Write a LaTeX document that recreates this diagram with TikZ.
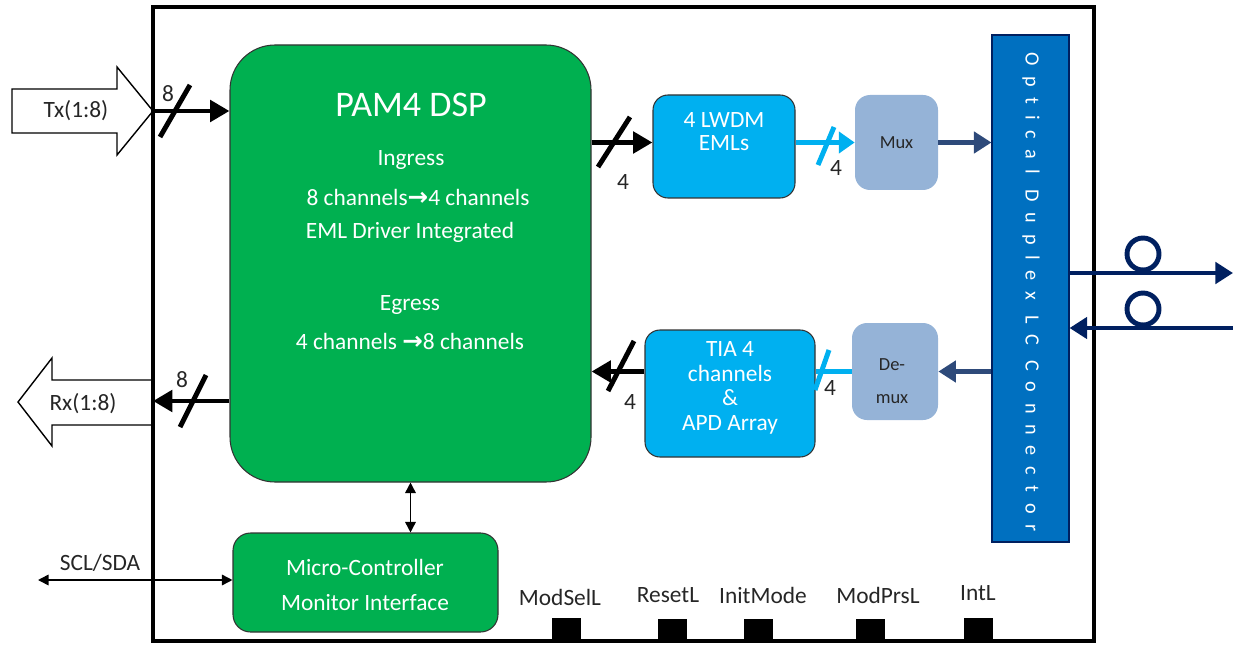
\documentclass[tikz,border=0pt]{standalone}
\usepackage{fontspec}
\setmainfont{Carlito}
\newfontfamily\arrowfont{DejaVu Sans}
\usetikzlibrary{arrows.meta}
\definecolor{dspgreen}{HTML}{00B050}
\definecolor{optblue}{HTML}{00B0F0}
\definecolor{muxblue}{HTML}{95B3D7}
\definecolor{connblue}{HTML}{0070C0}
\definecolor{linknavy}{HTML}{2E4A7A}
\definecolor{fibernavy}{HTML}{002060}
\definecolor{textdark}{HTML}{262626}
\begin{document}
\begin{tikzpicture}[x=0.02cm,y=-0.02cm,
  every node/.style={font=\fontsize{13.3}{16}\selectfont,text=textdark},
  blockbox/.style={draw=black!80,line width=0.6pt,inner sep=0pt},
  bus/.style={line width=2.8pt,-{Triangle[length=11pt,width=12pt]}},
  cyanbus/.style={color=optblue,line width=2.8pt},
  link/.style={color=linknavy,line width=2.8pt,-{Triangle[length=10pt,width=12pt]}},
  fiber/.style={color=fibernavy,line width=2.8pt},
  slashline/.style={line width=2.8pt},
  ctl/.style={line width=0.9pt,{Triangle[length=6pt,width=6pt]}-{Triangle[length=6pt,width=6pt]}},
  pinpad/.style={fill=black,inner sep=0pt,minimum width=29*0.02cm,minimum height=24*0.02cm}]
\useasboundingbox (0,0) rectangle (1233,645);

% host side block arrows
\draw[line width=0.8pt,fill=white] (12,89) -- (117,89) -- (117,67) -- (153,111) -- (117,155) -- (117,133) -- (12,133) -- cycle;
\node (txlabel) at (76,111) {Tx(1:8)};
\coordinate (txtip) at (153,111);
\draw[line width=0.8pt,fill=white] (153,380) -- (52,380) -- (52,358) -- (18,402) -- (52,446) -- (52,425) -- (153,425) -- cycle;
\node (rxlabel) at (83,404) {Rx(1:8)};
\coordinate (rxtip) at (153,401);

% module outline
\draw[line width=2.2pt] (153,7) rectangle (1094,641);

% DSP
\node[blockbox,fill=dspgreen,rounded corners=0.9cm,minimum width=361*0.02cm,minimum height=437*0.02cm] (dsp) at (410.5,263.5) {};
\node[text=white,font=\fontsize{20.5}{24}\selectfont] (dsptitle) at (411,105) {PAM4 DSP};
\node[text=white] (ingress) at (411,160) {Ingress};
\node[text=white] (ingressmap) at (418,197) {8 channels{\arrowfont\bfseries\fontsize{14}{16}\selectfont →}4 channels};
\node[text=white] (emldriver) at (410,232) {EML Driver Integrated};
\node[text=white] (egress) at (410,305) {Egress};
\node[text=white] (egressmap) at (410,341) {4 channels {\arrowfont\bfseries\fontsize{14}{16}\selectfont →}8 channels};

% optics
\node[blockbox,fill=optblue,rounded corners=0.3cm,minimum width=142*0.02cm,minimum height=103*0.02cm] (eml) at (724,146.5) {};
\node[text=white,align=center,font=\fontsize{13.3}{13}\selectfont] (emltext) at (724,132) {4 LWDM\\EMLs};
\node[fill=muxblue,rounded corners=0.3cm,inner sep=0pt,minimum width=83*0.02cm,minimum height=95*0.02cm,font=\fontsize{10.5}{12}\selectfont] (mux) at (896.5,142.5) {Mux};
\node[blockbox,fill=optblue,rounded corners=0.3cm,minimum width=170*0.02cm,minimum height=127*0.02cm] (tia) at (730,393.5) {};
\node[text=white,align=center,font=\fontsize{13.3}{14}\selectfont] (tiatext) at (730,388) {TIA 4\\channels\\\&\\APD Array};
\node[fill=muxblue,rounded corners=0.3cm,inner sep=0pt,minimum width=86*0.02cm,minimum height=97*0.02cm] (demux) at (895,371.5) {};
\node[align=center,font=\fontsize{10.5}{19}\selectfont] (demuxtext) at (892,381) {De-\\mux};
\node[draw=fibernavy,line width=0.6pt,fill=connblue,inner sep=0pt,minimum width=77*0.02cm,minimum height=507*0.02cm] (conn) at (1030.5,288.5) {};
\node[rotate=-90,text=white,font=\fontsize{11.5}{14}\selectfont\addfontfeature{LetterSpace=53,Ligatures=NoCommon}] (conntext) at (1031,292) {Optical Duplex LC Connector};

% micro-controller
\node[blockbox,fill=dspgreen,rounded corners=0.35cm,minimum width=265*0.02cm,minimum height=99*0.02cm] (mc) at (365.5,582.5) {};
\node[text=white,align=center,font=\fontsize{13.3}{20}\selectfont] (mctext) at (365,585) {Micro-Controller\\Monitor Interface};

% electrical lanes
\draw[bus] (txtip) -- (txtip -| dsp.west);
\draw[slashline] (175,111) ++(-15,26) -- ++(30,-52);
\node (txwidth) at (168,94) {8};
\draw[bus] (rxtip -| dsp.west) -- (rxtip);
\draw[slashline] (193,401) ++(-13,26) -- ++(26,-52);
\node (rxwidth) at (182,380) {8};
\draw[bus] (mux.west -| dsp.east) -- (mux.west -| eml.west);
\draw[slashline] (614,142) ++(-16,25) -- ++(32,-50);
\node (ingwidth) at (623,182) {4};
\draw[bus] (demux.west -| tia.west) -- (demux.west -| dsp.east);
\draw[slashline] (621,366) ++(-13,25) -- ++(26,-50);
\node (egrwidth) at (630,402) {4};

% optical lanes
\draw[cyanbus,-{Triangle[length=9pt,width=12pt]}] (mux.west -| eml.east) -- (mux.west);
\draw[cyanbus] (826,146) ++(-8,19) -- ++(16,-38);
\node (emlwidth) at (836,168) {4};
\draw[cyanbus] (demux.west) -- (demux.west -| tia.east);
\draw[cyanbus] (822,370) ++(-7,20) -- ++(14,-40);
\node (tiawidth) at (830,388) {4};
\draw[link] (mux.east) -- (mux.east -| conn.west);
\draw[link] (demux.east -| conn.west) -- (demux.east);

% fibres
\coordinate (fibout) at (1233,273);
\coordinate (fibin) at (1233,328);
\draw[fiber,-{Triangle[length=10pt,width=12pt]}] (conn.east |- fibout) -- (fibout);
\draw[fiber,-{Triangle[length=10pt,width=12pt]}] (fibin) -- (conn.east |- fibin);
\draw[fiber] (1143,254) circle (0.32cm);
\draw[fiber] (1143,309) circle (0.32cm);

% management
\draw[ctl] (dsp.south) -- (dsp.south |- mc.north);
\coordinate (sclend) at (38,580);
\draw[ctl] (sclend) -- (sclend -| mc.west);
\node (scllabel) at (100,563) {SCL/SDA};

% low speed pins
\node[pinpad] (modsel) at (566,630) {};
\node (modsellabel) at (560,597) {ModSelL};
\node[pinpad] (reset) at (672,631) {};
\node (resetlabel) at (668,595) {ResetL};
\node[pinpad] (initmode) at (758.5,631) {};
\node (initmodelabel) at (763,595) {InitMode};
\node[pinpad] (modprs) at (870.5,631) {};
\node (modprslabel) at (878,595) {ModPrsL};
\node[pinpad] (intl) at (978,629.5) {};
\node (intllabel) at (978,593) {IntL};
\end{tikzpicture}
\end{document}
